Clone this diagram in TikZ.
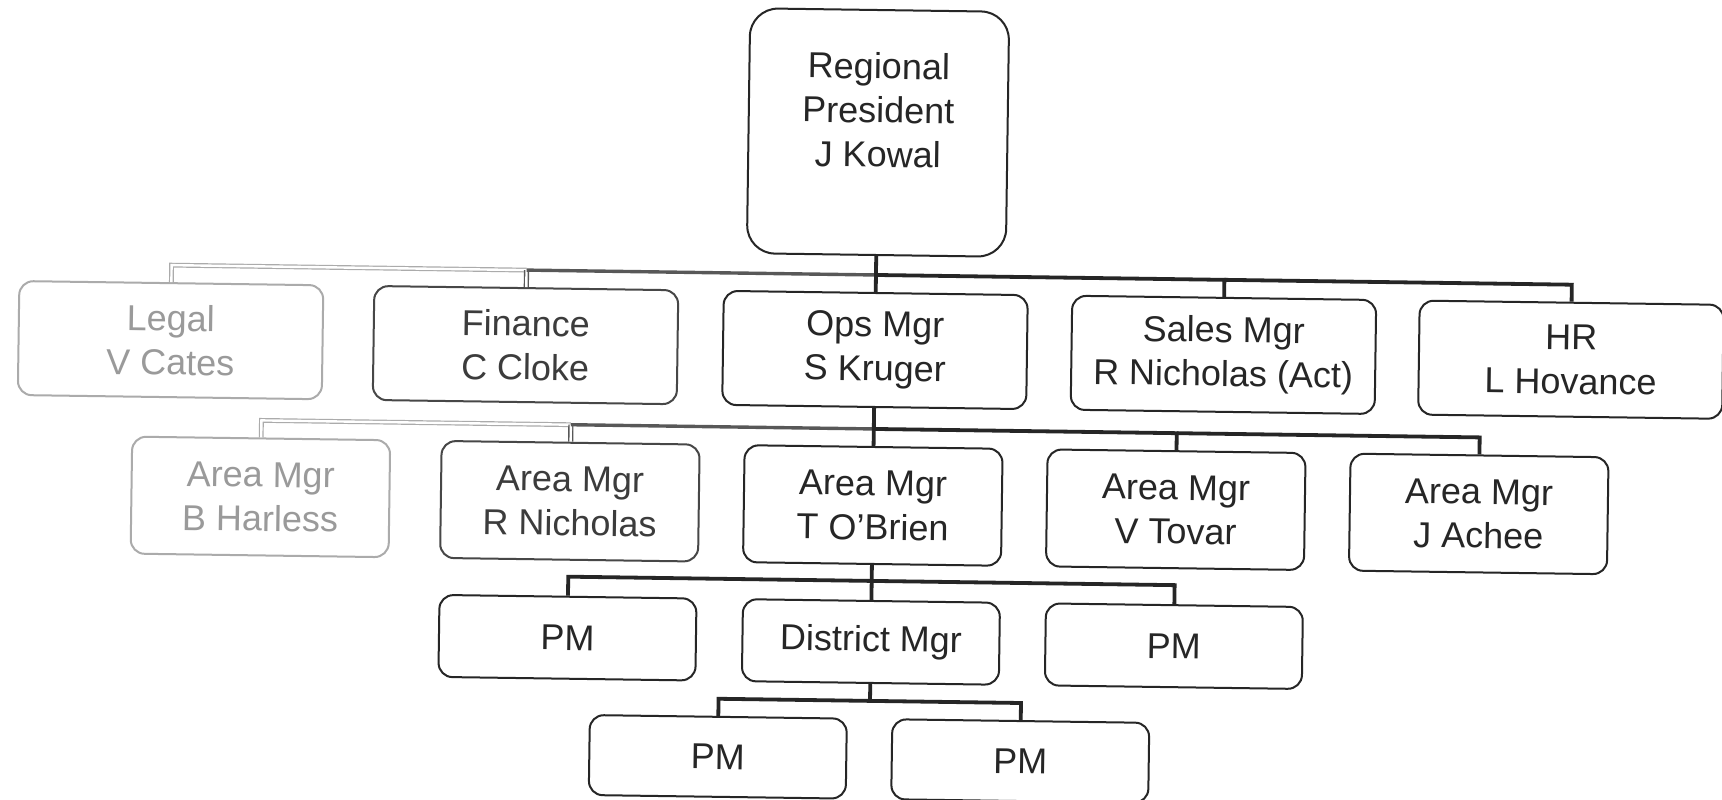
\documentclass[tikz,border=0pt]{standalone}
\usepackage{fontspec}
\setmainfont{Liberation Sans}
\definecolor{ink}{HTML}{262626}
\definecolor{fade}{HTML}{ABABAB}
\definecolor{fadetxt}{HTML}{9A9A9A}
\definecolor{mid}{HTML}{585858}
\tikzset{
  base/.style={rounded corners=7pt, line width=1pt, inner sep=0pt, align=center,
    font=\fontsize{18}{22}\selectfont},
  box/.style={base, draw=ink, text=ink},
  fadebox/.style={base, draw=fade, text=fadetxt},
  midbox/.style={base, draw=ink!85, text=ink!90},
  rowA/.style={minimum width=152pt, minimum height=57pt},
  rowB/.style={minimum width=129pt, minimum height=58.5pt},
  rowC/.style={minimum width=128.5pt, minimum height=41pt},
  rowD/.style={minimum width=128.5pt, minimum height=40pt},
  conn/.style={draw=ink, line width=1.9pt},
  connmid/.style={draw=mid, line width=1.7pt},
  connfade/.style={draw=fade, line width=0.6pt, double=white, double distance=1.2pt},
  connfademid/.style={draw=mid, line width=0.7pt, double=white, double distance=1.2pt},
}
\begin{document}
\begin{tikzpicture}[x=0.5pt, y=-0.5pt]
\useasboundingbox[fill=white] (0,0) rectangle (1722,799);
\begin{scope}[rotate around={-0.8:(876,420)}, transform shape]
  % root
  \node[box, rounded corners=14pt, minimum width=129.5pt, minimum height=122.5pt] (root) at (874,132.5) {};
  \node[base, text=ink] (roottext) at (874,110) {Regional\\President\\J Kowal};
  % row 1
  \node[fadebox, rowA] (legal) at (169.5,350) {Legal\\V Cates};
  \node[midbox, rowA] (fin) at (524.5,350) {Finance\\C Cloke};
  \node[box, rowA] (ops) at (874,350) {Ops Mgr\\S Kruger};
  \node[box, rowA] (sales) at (1222.5,350) {Sales Mgr\\R Nicholas (Act)};
  \node[box, rowA] (hr) at (1570,350) {HR\\L Hovance};
  % row 2
  \node[fadebox, rowB] (harless) at (261.5,505.5) {Area Mgr\\B Harless};
  \node[midbox, rowB] (nicholas) at (571,505.5) {Area Mgr\\R Nicholas};
  \node[box, rowB] (obrien) at (874,505.5) {Area Mgr\\T O'Brien};
  \node[box, rowB] (tovar) at (1177,505.5) {Area Mgr\\V Tovar};
  \node[box, rowB] (achee) at (1480,505.5) {Area Mgr\\J Achee};
  % row 3
  \node[box, rowC] (pmA) at (570.5,642) {PM};
  \node[box, rowC] (district) at (874,642) {District Mgr};
  \node[box, rowC] (pmB) at (1177,642) {PM};
  % row 4
  \node[box, rowD] (pmC) at (722.5,759) {PM};
  \node[box, rowD] (pmD) at (1025,759) {PM};

  % bus junctions
  \coordinate (jAc) at (874,275);
  \coordinate (jAl) at (169.5,275);
  \coordinate (jAf) at (524.5,275);
  \coordinate (jAs) at (1222.5,275);
  \coordinate (jAh) at (1570,275);
  \coordinate (jBc) at (874,429);
  \coordinate (jBh) at (261.5,429);
  \coordinate (jBn) at (571,429);
  \coordinate (jBt) at (1177,429);
  \coordinate (jBa) at (1480,429);
  \coordinate (jCc) at (874,581);
  \coordinate (jCa) at (570.5,581);
  \coordinate (jCb) at (1177,581);
  \coordinate (jDc) at (874,701);
  \coordinate (jDa) at (722.5,701);
  \coordinate (jDb) at (1025,701);

  % row 1 connectors
  \draw[connfade] (jAf) -- (jAl) -- (legal.north);
  \draw[connfademid] (jAf) -- (fin.north);
  \draw[connmid] (jAc) -- (jAf);
  \draw[conn] (root.south) -- (jAc) -- (ops.north);
  \draw[conn] (jAc) -- (jAs) -- (sales.north);
  \draw[conn] (jAs) -- (jAh) -- (hr.north);
  % row 2 connectors
  \draw[connfade] (jBn) -- (jBh) -- (harless.north);
  \draw[connfademid] (jBn) -- (nicholas.north);
  \draw[connmid] (jBc) -- (jBn);
  \draw[conn] (ops.south) -- (jBc) -- (obrien.north);
  \draw[conn] (jBc) -- (jBt) -- (tovar.north);
  \draw[conn] (jBt) -- (jBa) -- (achee.north);
  % row 3 connectors
  \draw[conn] (obrien.south) -- (jCc) -- (district.north);
  \draw[conn] (jCc) -- (jCa) -- (pmA.north);
  \draw[conn] (jCc) -- (jCb) -- (pmB.north);
  % row 4 connectors
  \draw[conn] (district.south) -- (jDc);
  \draw[conn] (jDc) -- (jDa) -- (pmC.north);
  \draw[conn] (jDc) -- (jDb) -- (pmD.north);
\end{scope}
\end{tikzpicture}
\end{document}
